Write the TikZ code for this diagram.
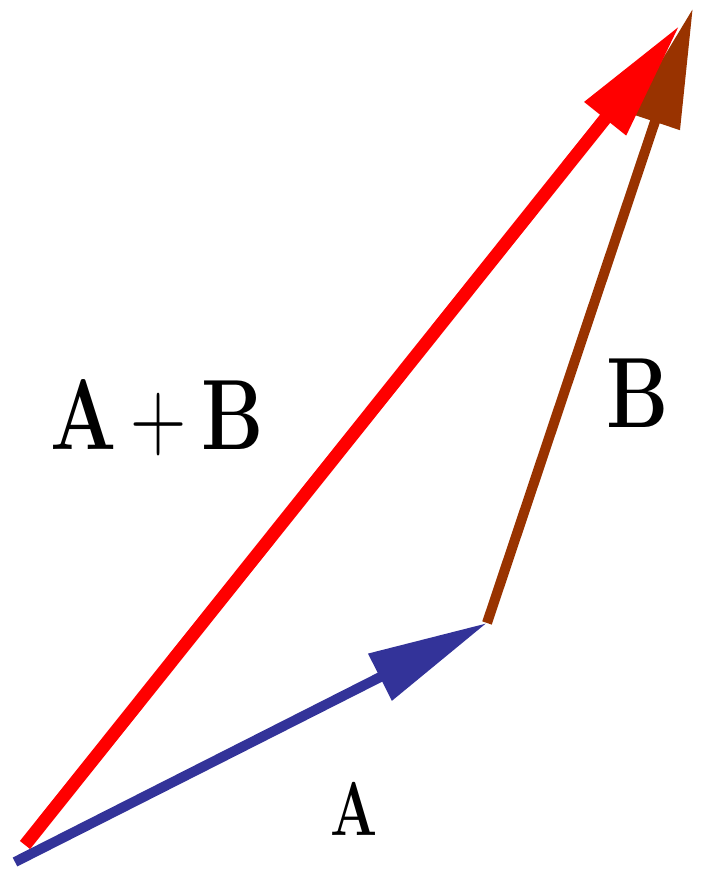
\documentclass[tikz,border=0pt]{standalone}
\usepackage{fontspec}
\usepackage{graphicx}
\usepackage{tikz}
\usetikzlibrary{arrows.meta}

\definecolor{vecA}{RGB}{51,51,153}
\definecolor{vecB}{RGB}{153,51,0}
\definecolor{vecS}{RGB}{255,0,0}

\newcommand{\biglabel}[1]{\scalebox{0.78}[1]{\fontsize{50}{50}\selectfont #1}}
\newcommand{\smalllabel}[1]{\scalebox{0.73}[1]{\fontsize{38}{38}\selectfont #1}}

\begin{document}
\begin{tikzpicture}[x=0.5pt, y=0.5pt, every node/.style={inner sep=0pt}, >={Triangle[length=60pt, width=25pt]}]
	\useasboundingbox (0,0) rectangle (701,879);
	\coordinate (o) at (15,17);
	\coordinate (os) at (25,34);
	\coordinate (p) at (487,256);
	\coordinate (q) at (693,871);
	\coordinate (s) at (680,854);
	\draw[vecA, line width=5pt, ->] (o) -- (p);
	\draw[vecB, line width=5pt, ->] (p) -- (q);
	\draw[vecS, line width=6.5pt, ->] (os) -- (s);
	\node (lab) at (157,461) {\biglabel{\textbf{A}\kern9pt+\kern9pt\textbf{B}}};
	\node (labB) at (638,486) {\biglabel{\textbf{B}}};
	\node (labA) at (354,70) {\smalllabel{\textbf{A}}};
\end{tikzpicture}
\end{document}
